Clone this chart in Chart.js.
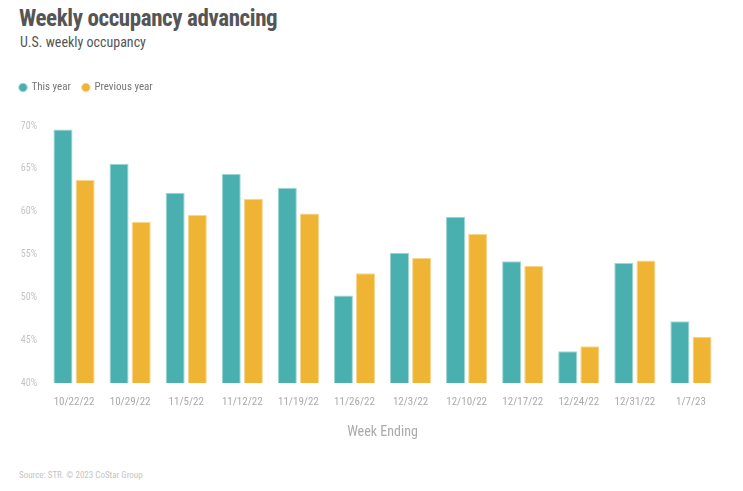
<!DOCTYPE html>
<html>
<head>
<meta charset="utf-8">
<script src="https://cdn.jsdelivr.net/npm/chart.js@4"></script>
<style>
  html, body { margin: 0; padding: 0; background: #fff; }
  #wrap { position: relative; width: 743px; height: 491px; font-family: "Roboto Condensed", "Liberation Sans Narrow", Roboto, sans-serif; }
  #title { position: absolute; left: 19px; top: 5px; font-size: 23px; font-weight: bold; color: #555; letter-spacing: -0.4px; }
  #subtitle { position: absolute; left: 20px; top: 34px; font-size: 14px; color: #555; }
  #source { position: absolute; left: 19px; top: 470px; font-size: 9px; color: #c4c4c4; }
  #box { position: absolute; left: 0; top: 70px; width: 743px; height: 375px; }
</style>
</head>
<body>
<div id="wrap">
  <div id="title">Weekly occupancy advancing</div>
  <div id="subtitle">U.S. weekly occupancy</div>
  <div id="box"><canvas id="occChart"></canvas></div>
  <div id="source">Source: STR. © 2023 CoStar Group</div>
</div>
<script>
// données
const weeks = ['10/22/22', '10/29/22', '11/5/22', '11/12/22', '11/19/22', '11/26/22',
               '12/3/22', '12/10/22', '12/17/22', '12/24/22', '12/31/22', '1/7/23'];
const thisYear = [69.6, 65.6, 62.2, 64.4, 62.8, 50.2, 55.2, 59.4, 54.2, 43.7, 54.0, 47.2];
const previousYear = [63.7, 58.8, 59.6, 61.5, 59.8, 52.8, 54.6, 57.4, 53.7, 44.3, 54.3, 45.4];

const font = '"Roboto Condensed", "Liberation Sans Narrow", Roboto, sans-serif';

// espace sous la légende
const legendGap = {
    id: 'legendGap',
    beforeInit(chart) {
        const fit = chart.legend.fit;
        chart.legend.fit = function () {
            fit.bind(chart.legend)();
            this.height += 23;
        };
    }
};

new Chart(document.getElementById('occChart'), {
    type: 'bar',
    data: {
        labels: weeks,
        datasets: [{
            label: 'This year',
            data: thisYear,
            backgroundColor: '#4AB0AF',
            borderColor: '#9fd6d4',
            borderWidth: 1
        }, {
            label: 'Previous year',
            data: previousYear,
            backgroundColor: '#EFB434',
            borderColor: '#f7d68f',
            borderWidth: 1
        }]
    },
    plugins: [legendGap],
    options: {
        responsive: true,
        maintainAspectRatio: false,
        animation: false,
        datasets: { bar: { categoryPercentage: 0.79, barPercentage: 0.86 } },
        layout: { padding: { left: 8, right: 24, top: 0, bottom: 0 } },
        plugins: {
            legend: {
                position: 'top',
                align: 'start',
                labels: {
                    usePointStyle: true,
                    pointStyle: 'circle',
                    boxWidth: 6,
                    boxHeight: 6,
                    padding: 12,
                    color: '#777',
                    font: { family: font, size: 11 }
                }
            },
            tooltip: { enabled: false }
        },
        scales: {
            x: {
                grid: { display: false },
                border: { display: false },
                ticks: { color: '#aaa', font: { family: font, size: 11 }, padding: 5, maxRotation: 0 },
                title: { display: true, text: 'Week Ending', color: '#aaa', font: { family: font, size: 14 }, padding: { top: 10 } }
            },
            y: {
                min: 40,
                max: 70,
                afterFit: scale => { scale.width = 38; },
                grid: { display: false, drawTicks: false },
                border: { display: false },
                ticks: { stepSize: 5, color: '#c4c4c4', font: { family: font, size: 10 }, padding: 9,
                         callback: v => v + '%' }
            }
        }
    }
});
</script>
</body>
</html>
